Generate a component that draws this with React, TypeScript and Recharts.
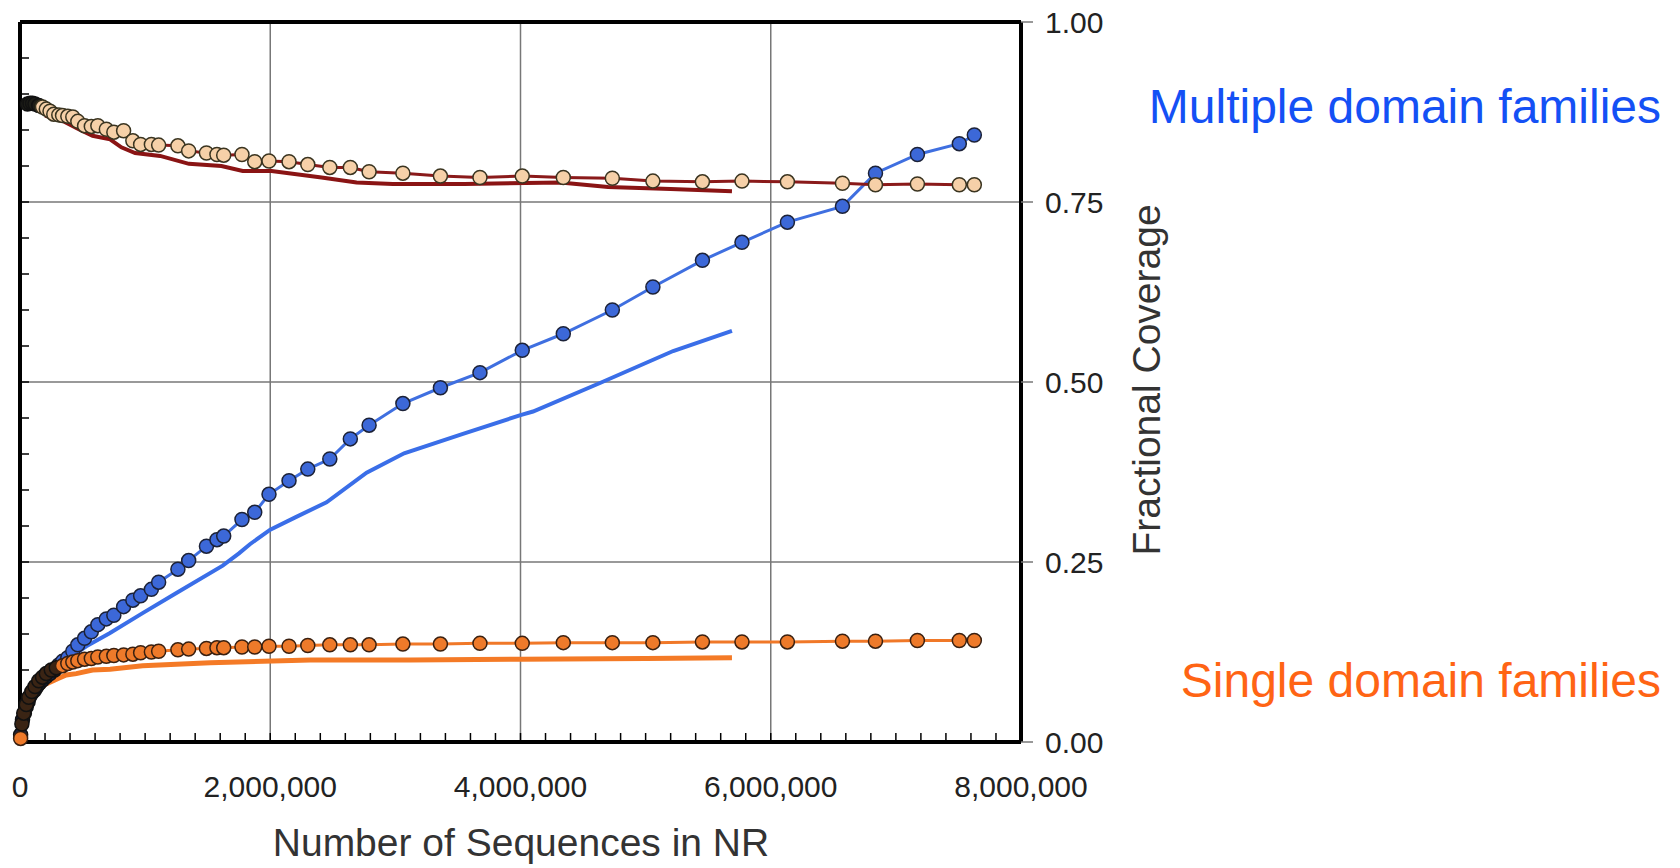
import React from 'react';
import { ComposedChart, Line, XAxis, YAxis, CartesianGrid, ReferenceLine } from 'recharts';

const FONT = '"Liberation Sans", Arial, sans-serif';

// axis ticks
const xTicks = [0, 2000000, 4000000, 6000000, 8000000];
const xMinorTicks = Array.from({ length: 39 }, (_, i) => (i + 1) * 200000);
const yTicks = [0, 0.25, 0.5, 0.75, 1];
const yMinorTicks = Array.from({ length: 19 }, (_, i) => (i + 1) * 0.05);

// multiple domain families, with markers
const multiDots: [number, number][] = [
  [5000, 0.01], [20000, 0.031], [35000, 0.04], [50000, 0.049], [65000, 0.056], [76000, 0.063],
  [95000, 0.068], [116000, 0.072], [135000, 0.077], [156000, 0.082], [180000, 0.086], [210000, 0.091],
  [240000, 0.095], [276000, 0.1], [310000, 0.107], [340000, 0.112], [382000, 0.117], [422000, 0.126],
  [462000, 0.135], [516000, 0.144], [570000, 0.153], [622000, 0.163], [690000, 0.171], [750000, 0.176],
  [828000, 0.188], [902000, 0.197], [964000, 0.203], [1050000, 0.212], [1108000, 0.222], [1262000, 0.24],
  [1348000, 0.252], [1490000, 0.272], [1574000, 0.281], [1628000, 0.286], [1774000, 0.309], [1876000, 0.319],
  [1990000, 0.344], [2150000, 0.363], [2300000, 0.379], [2476000, 0.393], [2640000, 0.421], [2790000, 0.44],
  [3060000, 0.47], [3360000, 0.492], [3676000, 0.513], [4014000, 0.544], [4342000, 0.567], [4734000, 0.6],
  [5058000, 0.632], [5454000, 0.669], [5770000, 0.694], [6133000, 0.722], [6573000, 0.744], [6837000, 0.79],
  [7172000, 0.816], [7507000, 0.831], [7627000, 0.843],
];

// multiple domain families, line only
const multiLine: [number, number][] = [
  [0, 0], [30000, 0.03], [80000, 0.05], [150000, 0.07], [250000, 0.09], [370000, 0.114], [530000, 0.133],
  [716000, 0.151], [980000, 0.179], [1250000, 0.207], [1620000, 0.245], [1750000, 0.262], [1840000, 0.275],
  [2000000, 0.295], [2200000, 0.312], [2450000, 0.333], [2770000, 0.374], [3070000, 0.401], [3540000, 0.428],
  [4000000, 0.454], [4100000, 0.459], [4640000, 0.499], [5220000, 0.543], [5690000, 0.571],
];

// single domain families, with markers
const singleDots: [number, number][] = [
  [5000, 0.005], [15000, 0.025], [30000, 0.04], [50000, 0.052], [70000, 0.062], [95000, 0.07],
  [120000, 0.077], [150000, 0.085], [180000, 0.09], [210000, 0.095], [250000, 0.1], [290000, 0.103],
  [340000, 0.106], [382000, 0.109], [422000, 0.111], [462000, 0.113], [516000, 0.115], [570000, 0.116],
  [622000, 0.118], [690000, 0.119], [750000, 0.12], [828000, 0.121], [902000, 0.122], [964000, 0.124],
  [1050000, 0.125], [1108000, 0.126], [1262000, 0.128], [1348000, 0.129], [1490000, 0.13], [1574000, 0.131],
  [1628000, 0.131], [1774000, 0.132], [1876000, 0.132], [1990000, 0.133], [2150000, 0.133], [2300000, 0.134],
  [2476000, 0.135], [2640000, 0.135], [2790000, 0.135], [3060000, 0.136], [3360000, 0.136], [3676000, 0.137],
  [4014000, 0.137], [4342000, 0.138], [4734000, 0.138], [5058000, 0.138], [5454000, 0.139], [5770000, 0.139],
  [6133000, 0.139], [6573000, 0.14], [6837000, 0.14], [7172000, 0.141], [7507000, 0.141], [7627000, 0.141],
];

// single domain families, line only
const singleLine: [number, number][] = [
  [0, 0], [30000, 0.03], [70000, 0.05], [120000, 0.065], [200000, 0.08], [300000, 0.088], [370000, 0.093],
  [450000, 0.095], [580000, 0.1], [720000, 0.101], [980000, 0.106], [1520000, 0.11], [2320000, 0.114],
  [3120000, 0.114], [4000000, 0.115], [5000000, 0.116], [5690000, 0.117],
];

// top series, with markers
const topDots: [number, number][] = [
  [60000, 0.886], [80000, 0.887], [100000, 0.887], [120000, 0.886], [150000, 0.884], [180000, 0.882],
  [210000, 0.879], [240000, 0.876], [270000, 0.872], [310000, 0.871], [340000, 0.87], [382000, 0.869],
  [422000, 0.868], [462000, 0.862], [516000, 0.856], [570000, 0.855], [622000, 0.856], [690000, 0.851],
  [750000, 0.847], [828000, 0.849], [902000, 0.835], [964000, 0.83], [1050000, 0.83], [1108000, 0.829],
  [1262000, 0.828], [1348000, 0.821], [1490000, 0.818], [1574000, 0.816], [1628000, 0.815], [1774000, 0.816],
  [1876000, 0.806], [1990000, 0.807], [2150000, 0.806], [2300000, 0.802], [2476000, 0.798], [2640000, 0.798],
  [2790000, 0.792], [3060000, 0.79], [3360000, 0.786], [3676000, 0.784], [4014000, 0.786], [4342000, 0.784],
  [4734000, 0.783], [5058000, 0.779], [5454000, 0.778], [5770000, 0.779], [6133000, 0.778], [6573000, 0.776],
  [6837000, 0.774], [7172000, 0.775], [7507000, 0.774], [7627000, 0.774],
];

// top series, line only
const topLine: [number, number][] = [
  [200000, 0.87], [350000, 0.862], [470000, 0.851], [580000, 0.842], [720000, 0.837], [810000, 0.826],
  [920000, 0.818], [1120000, 0.814], [1350000, 0.803], [1610000, 0.8], [1780000, 0.793], [2010000, 0.793],
  [2410000, 0.784], [2690000, 0.777], [2980000, 0.775], [3550000, 0.775], [4320000, 0.777], [4700000, 0.771],
  [5200000, 0.768], [5690000, 0.765],
];

const rows = (pts: [number, number][]) => pts.map(([x, y]) => ({ x, y }));

// the crowded early points look almost black in the original
function makeDot(fill: string, stroke: string, darkFill: string, darkUntil: number, skipFirst: boolean) {
  return (props: any) => {
    const { cx, cy, index, payload } = props;
    if (cx == null || cy == null) return <g key={`d${index}`} />;
    const dark = payload.x < darkUntil && !(skipFirst && index === 0);
    return (
      <circle key={`d${index}`} cx={cx} cy={cy} r={7}
        fill={dark ? darkFill : fill} stroke={dark ? '#111' : stroke} strokeWidth={1.5} />
    );
  };
}

const noTick = () => <g />;

// small inner tick marks, ~9px long
const X_TICK_LEN = 0.0125;
const Y_TICK_LEN = 72000;

export default function App() {
  return (
    <div style={{ position: 'absolute', left: 0, top: 0, width: 1680, height: 868, background: '#fff', fontFamily: FONT }}>
      <ComposedChart width={1680} height={868} margin={{ top: 22, right: 559, bottom: 0, left: 20 }}>
        <CartesianGrid xAxisId="main" yAxisId="main" stroke="#777" strokeWidth={1.5} />
        <XAxis
          xAxisId="main"
          dataKey="x"
          type="number"
          domain={[0, 8000000]}
          ticks={xTicks}
          tickFormatter={(v) => Number(v).toLocaleString('en-US')}
          height={126}
          axisLine={{ stroke: '#000', strokeWidth: 4 }}
          tickLine={false}
          tickSize={0}
          tickMargin={34}
          tick={{ fill: '#222', fontSize: 30, fontFamily: FONT }}
        />
        <XAxis
          xAxisId="top"
          orientation="top"
          dataKey="x"
          type="number"
          domain={[0, 8000000]}
          ticks={xTicks}
          mirror
          height={1}
          axisLine={{ stroke: '#000', strokeWidth: 4 }}
          tick={noTick}
          tickLine={false}
        />
        <YAxis
          yAxisId="main"
          orientation="right"
          type="number"
          domain={[0, 1]}
          ticks={yTicks}
          tickFormatter={(v) => Number(v).toFixed(2)}
          width={100}
          axisLine={{ stroke: '#000', strokeWidth: 4 }}
          tickLine={{ stroke: '#777', strokeWidth: 1.5 }}
          tickSize={12}
          tickMargin={12}
          tick={{ fill: '#222', fontSize: 30, fontFamily: FONT }}
        />
        <YAxis
          yAxisId="left"
          orientation="left"
          type="number"
          domain={[0, 1]}
          ticks={yTicks}
          mirror
          width={1}
          axisLine={{ stroke: '#000', strokeWidth: 4 }}
          tick={noTick}
          tickLine={false}
        />

        {xMinorTicks.map((t) => (
          <ReferenceLine key={`xm${t}`} xAxisId="main" yAxisId="main"
            segment={[{ x: t, y: 0 }, { x: t, y: X_TICK_LEN }]}
            stroke="#000" strokeWidth={1.5} />
        ))}
        {yMinorTicks.map((t) => (
          <ReferenceLine key={`ym${t}`} xAxisId="main" yAxisId="main"
            segment={[{ x: 0, y: t }, { x: Y_TICK_LEN, y: t }]}
            stroke="#000" strokeWidth={1.5} />
        ))}

        <Line xAxisId="main" yAxisId="main" data={rows(multiLine)} dataKey="y" type="linear"
          stroke="#3a6ee8" strokeWidth={4} dot={false} activeDot={false} isAnimationActive={false} />
        <Line xAxisId="main" yAxisId="main" data={rows(singleLine)} dataKey="y" type="linear"
          stroke="#f47a26" strokeWidth={5} dot={false} activeDot={false} isAnimationActive={false} />
        <Line xAxisId="main" yAxisId="main" data={rows(topLine)} dataKey="y" type="linear"
          stroke="#8a1414" strokeWidth={4} dot={false} activeDot={false} isAnimationActive={false} />

        <Line xAxisId="main" yAxisId="main" data={rows(multiDots)} dataKey="y" type="linear"
          stroke="#3f6fe0" strokeWidth={3}
          dot={makeDot('#3c68d8', '#1c2238', '#1b2548', 300000, false)}
          activeDot={false} isAnimationActive={false} />
        <Line xAxisId="main" yAxisId="main" data={rows(singleDots)} dataKey="y" type="linear"
          stroke="#f07828" strokeWidth={3}
          dot={makeDot('#ee7a2a', '#3a2010', '#3a2414', 330000, true)}
          activeDot={false} isAnimationActive={false} />
        <Line xAxisId="main" yAxisId="main" data={rows(topDots)} dataKey="y" type="linear"
          stroke="#8a1a1a" strokeWidth={3}
          dot={makeDot('#f6d0a8', '#3a3420', '#1e1e18', 160000, false)}
          activeDot={false} isAnimationActive={false} />
      </ComposedChart>

      <svg width={1680} height={868} style={{ position: 'absolute', left: 0, top: 0, pointerEvents: 'none' }}>
        <text x={521} y={856} textAnchor="middle" fontSize={39} fill="#333" fontFamily={FONT}>
          Number of Sequences in NR
        </text>
        <text x={1160} y={380} transform="rotate(-90 1160 380)" textAnchor="middle" fontSize={39} fill="#333" fontFamily={FONT}>
          Fractional Coverage
        </text>
        <text x={1661} y={123} textAnchor="end" fontSize={48} fill="#1450f5" fontFamily={FONT}>
          Multiple domain families
        </text>
        <text x={1661} y={697} textAnchor="end" fontSize={48} fill="#ff6414" fontFamily={FONT}>
          Single domain families
        </text>
      </svg>
    </div>
  );
}
